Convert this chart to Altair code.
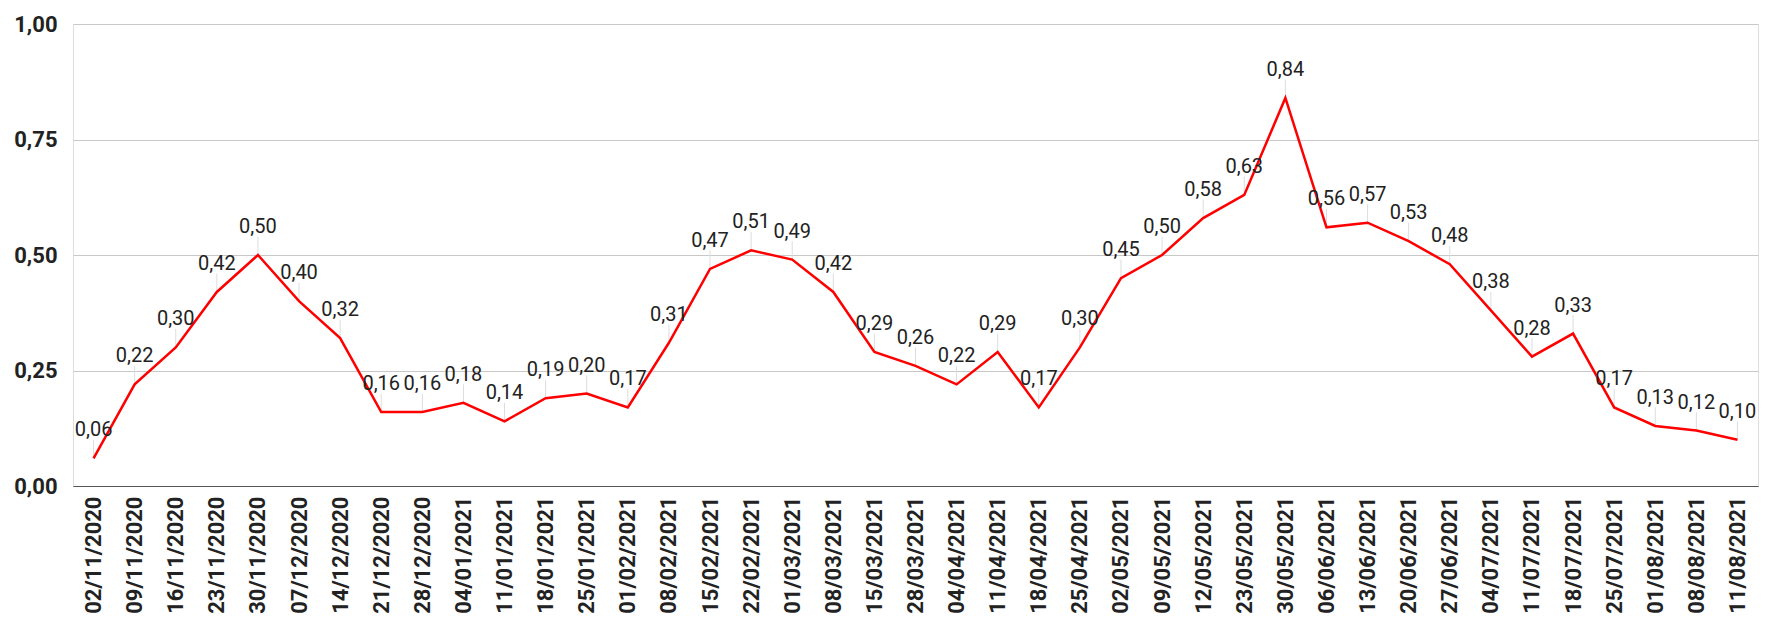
import pandas as pd
import altair as alt

dates = ["02/11/2020", "09/11/2020", "16/11/2020", "23/11/2020", "30/11/2020", "07/12/2020",
         "14/12/2020", "21/12/2020", "28/12/2020", "04/01/2021", "11/01/2021", "18/01/2021",
         "25/01/2021", "01/02/2021", "08/02/2021", "15/02/2021", "22/02/2021", "01/03/2021",
         "08/03/2021", "15/03/2021", "28/03/2021", "04/04/2021", "11/04/2021", "18/04/2021",
         "25/04/2021", "02/05/2021", "09/05/2021", "12/05/2021", "23/05/2021", "30/05/2021",
         "06/06/2021", "13/06/2021", "20/06/2021", "27/06/2021", "04/07/2021", "11/07/2021",
         "18/07/2021", "25/07/2021", "01/08/2021", "08/08/2021", "11/08/2021"]
values = [0.06, 0.22, 0.30, 0.42, 0.50, 0.40, 0.32, 0.16, 0.16, 0.18, 0.14, 0.19, 0.20, 0.17,
          0.31, 0.47, 0.51, 0.49, 0.42, 0.29, 0.26, 0.22, 0.29, 0.17, 0.30, 0.45, 0.50, 0.58,
          0.63, 0.84, 0.56, 0.57, 0.53, 0.48, 0.38, 0.28, 0.33, 0.17, 0.13, 0.12, 0.10]

df = pd.DataFrame({"date": dates, "value": values})
df["label"] = [f"{v:.2f}".replace(".", ",") for v in values]

x = alt.X("date:N", sort=None, title=None,
          scale=alt.Scale(type="point", padding=0.5),
          axis=alt.Axis(labelAngle=-90, labelFontWeight="bold", labelFontSize=22, grid=False,
                        labelColor="#222", domainColor="#555", ticks=False, labelPadding=10))
y = alt.Y("value:Q", title=None,
          scale=alt.Scale(domain=[0, 1]),
          axis=alt.Axis(values=[0, 0.25, 0.5, 0.75, 1], labelExpr="replace(format(datum.value, '.2f'), '.', ',')",
                        labelFontWeight="bold", labelFontSize=22, labelColor="#222",
                        domain=False, ticks=False, gridColor="#c8c8c8", labelPadding=16))

base = alt.Chart(df).encode(x=x, y=y)
line = base.mark_line(color="#ff0000", strokeWidth=2.5)
stem = base.mark_rule(color="#dddddd").encode(y2=alt.Y2("top:Q")).transform_calculate(top="datum.value + 0.04")
text = base.mark_text(dy=-28, fontSize=20, color="#222", font="Roboto").encode(text="label:N")

chart = (stem + line + text).properties(width=1685, height=462).configure_view(stroke=None, strokeWidth=0).configure(font="Roboto")
chart.save("out.html", embed_options={"renderer": "svg", "actions": False})
